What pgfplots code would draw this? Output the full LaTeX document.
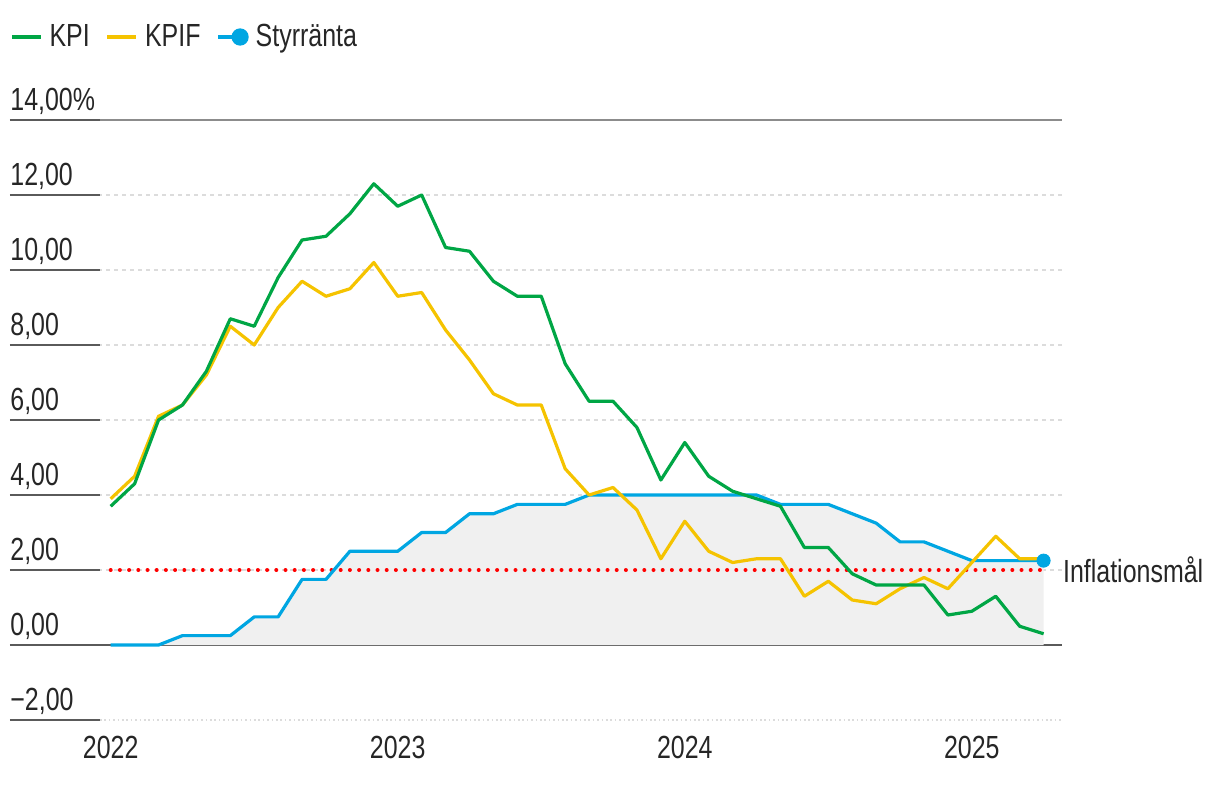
\documentclass[border=0pt]{standalone}
\usepackage{fontspec}
\setmainfont{Liberation Sans}[FakeStretch=0.78]
\usepackage{pgfplots}
\usepackage{pgfplotstable}
\pgfplotsset{compat=1.18}
\definecolor{kpi}{HTML}{00A645}
\definecolor{kpif}{HTML}{F5C300}
\definecolor{sty}{HTML}{00A6E2}
\definecolor{txt}{HTML}{262626}
\definecolor{axdark}{HTML}{5A5A5A}
\definecolor{gridc}{HTML}{DCDCDC}
\definecolor{areac}{HTML}{F0F0F0}
\newcommand{\lf}{\fontsize{16}{19}\selectfont}
\pgfplotsset{
  lineleg/.style={legend image code/.code={\draw[##1] (0pt,0pt) -- (14.5pt,0pt);}},
  dotleg/.style={legend image code/.code={\draw[##1] (0pt,0pt) -- (11pt,0pt); \fill[##1] (11pt,0pt) circle (3.5pt);}},
}

\pgfplotstableread{
x kpi kpif sty
0 3.7 3.9 0
1 4.3 4.5 0
2 6.0 6.1 0
3 6.4 6.4 0.25
4 7.3 7.2 0.25
5 8.7 8.5 0.25
6 8.5 8.0 0.75
7 9.8 9.0 0.75
8 10.8 9.7 1.75
9 10.9 9.3 1.75
10 11.5 9.5 2.5
11 12.3 10.2 2.5
12 11.7 9.3 2.5
13 12.0 9.4 3.0
14 10.6 8.4 3.0
15 10.5 7.6 3.5
16 9.7 6.7 3.5
17 9.3 6.4 3.75
18 9.3 6.4 3.75
19 7.5 4.7 3.75
20 6.5 4.0 4.0
21 6.5 4.2 4.0
22 5.8 3.6 4.0
23 4.4 2.3 4.0
24 5.4 3.3 4.0
25 4.5 2.5 4.0
26 4.1 2.2 4.0
27 3.9 2.3 4.0
28 3.7 2.3 3.75
29 2.6 1.3 3.75
30 2.6 1.7 3.75
31 1.9 1.2 3.5
32 1.6 1.1 3.25
33 1.6 1.5 2.75
34 1.6 1.8 2.75
35 0.8 1.5 2.5
36 0.9 2.2 2.25
37 1.3 2.9 2.25
38 0.5 2.3 2.25
39 0.3 2.3 2.25
}\data

\begin{document}
\begin{tikzpicture}
\useasboundingbox (-5pt,-32pt) rectangle (605pt,360pt);
\begin{axis}[
  at={(0pt,0pt)}, anchor=south west,
  scale only axis, width=526pt, height=300pt,
  xmin=-4.21, xmax=39.77, ymin=-2, ymax=14,
  axis line style={draw=none},
  clip=false,
  xtick={0,12,24,36}, xticklabels={2022,2023,2024,2025},
  ytick={2,4,6,8,10,12},
  yticklabels={{2,00},{4,00},{6,00},{8,00},{10,00},{12,00}},
  extra y ticks={-2,0,14},
  extra y tick labels={{−2,00},{0,00},{14,00\%}},
  extra y tick style={grid=none},
  tick style={draw=none},
  major tick length=0pt,
  ymajorgrids=true,
  grid style={gridc, line width=0.8pt, dash pattern=on 2pt off 2pt},
  every tick label/.append style={font=\lf, text=txt},
  xticklabel style={anchor=north, inner sep=0pt, yshift=-8pt},
  yticklabel style={anchor=base west, inner sep=0pt, yshift=5pt},
  legend style={at={(rel axis cs:0,1)}, anchor=west, yshift=41.5pt,
    draw=none, fill=none, inner sep=0pt, font=\lf, text=txt,
    legend columns=-1,
    nodes={inner sep=0pt},
    /tikz/every odd column/.append style={column sep=3.5pt},
    /tikz/every even column/.append style={column sep=8pt}},
  legend cell align=left,
]
% reference lines
\draw[axdark, line width=1pt] (axis cs:-4.21,0) -- (axis cs:39.77,0);
\draw[gray!90, line width=0.6pt] (axis cs:-4.21,14) -- (axis cs:39.77,14);
\draw[gridc, line width=0.8pt, dash pattern=on 0.8pt off 1.4pt] (axis cs:-0.45,-2) -- (axis cs:39.77,-2);
\draw[axdark, line width=0.8pt] (axis cs:-4.21,14) -- (axis cs:-0.45,14);
\draw[axdark, line width=0.8pt] (axis cs:-4.21,12) -- (axis cs:-0.45,12);
\draw[axdark, line width=0.8pt] (axis cs:-4.21,10) -- (axis cs:-0.45,10);
\draw[axdark, line width=0.8pt] (axis cs:-4.21,8) -- (axis cs:-0.45,8);
\draw[axdark, line width=0.8pt] (axis cs:-4.21,6) -- (axis cs:-0.45,6);
\draw[axdark, line width=0.8pt] (axis cs:-4.21,4) -- (axis cs:-0.45,4);
\draw[axdark, line width=0.8pt] (axis cs:-4.21,2) -- (axis cs:-0.45,2);
\draw[axdark, line width=0.8pt] (axis cs:-4.21,-2) -- (axis cs:-0.45,-2);

\addplot[fill=areac, draw=none, forget plot] table[x=x, y=sty]{\data} \closedcycle;
\addplot[red, line width=2pt, line cap=round, dash pattern=on 0pt off 4.6pt, forget plot] coordinates {(0,2) (39,2)};
\addplot[sty, line width=1.6pt, line join=round, forget plot] table[x=x, y=sty]{\data};
\addplot[kpif, line width=1.6pt, line join=round, forget plot] table[x=x, y=kpif]{\data};
\addplot[kpi, line width=1.6pt, line join=round, forget plot] table[x=x, y=kpi]{\data};
\addplot[sty, only marks, mark=*, mark size=3.3pt, forget plot] coordinates {(39,2.25)};

\node[anchor=west, inner sep=0pt, font=\lf, text=txt] at (axis cs:39.8,2) {Inflationsmål};

\addlegendimage{kpi, line width=1.6pt, lineleg}
\addlegendentry{KPI}
\addlegendimage{kpif, line width=1.6pt, lineleg}
\addlegendentry{KPIF}
\addlegendimage{sty, line width=1.6pt, dotleg}
\addlegendentry{Styrränta}
\end{axis}
\end{tikzpicture}
\end{document}
